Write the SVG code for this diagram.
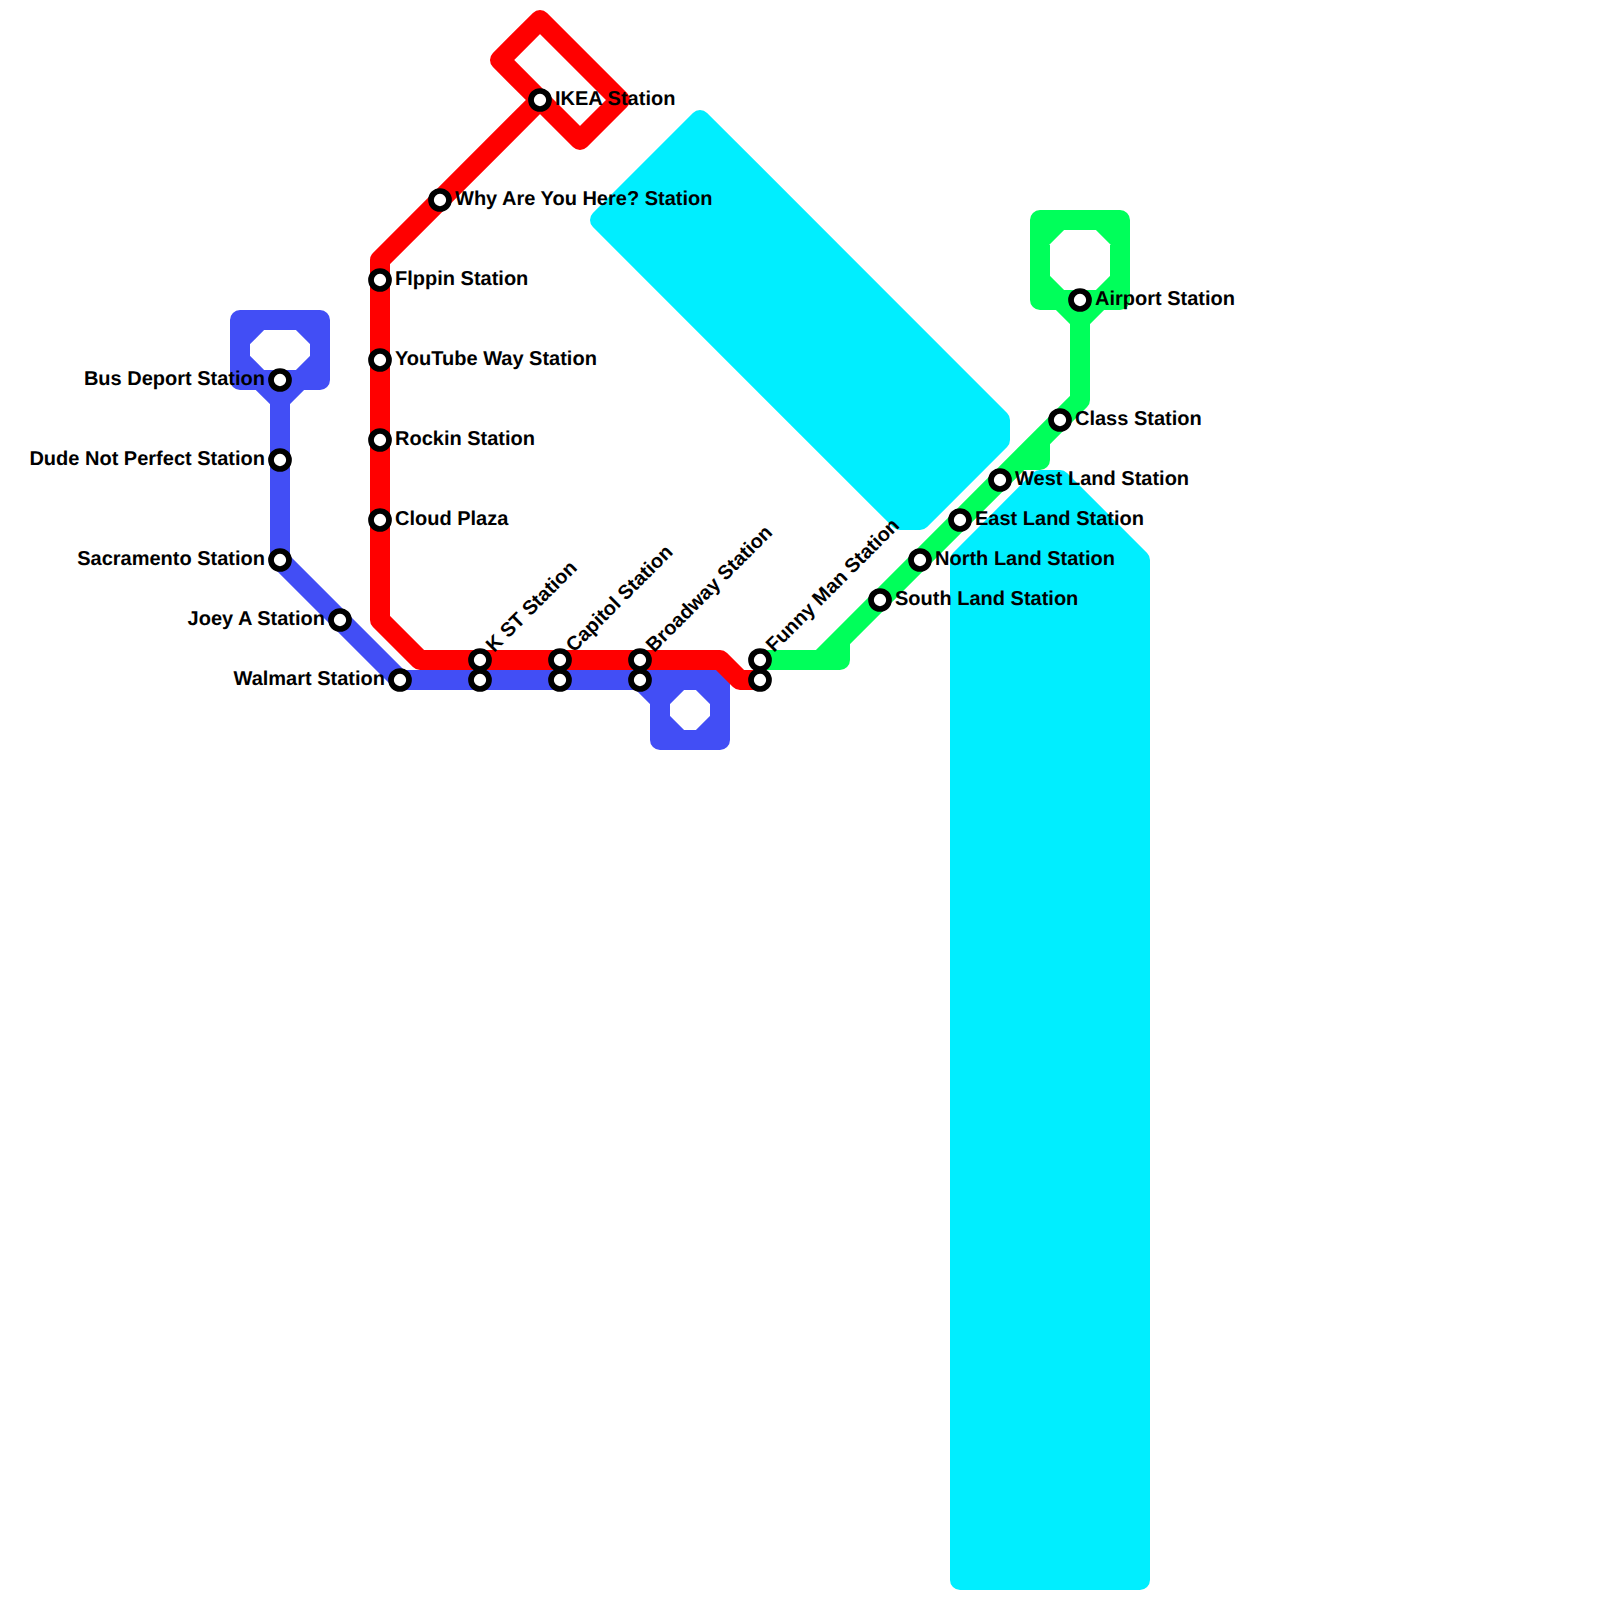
<svg xmlns="http://www.w3.org/2000/svg" width="1600" height="1600" viewBox="0 0 1600 1600">
<style>
.w{fill:#00eeff;stroke:#00eeff;stroke-width:20;stroke-linejoin:round}
.l{fill:none;stroke-width:20;stroke-linejoin:round;stroke-linecap:round}
.s circle{fill:#fff;stroke:#000;stroke-width:5.7}
.s text{font-family:"Liberation Sans",Arial,sans-serif;font-weight:700;font-size:20px;fill:#000;text-rendering:geometricPrecision}
.e{text-anchor:end}
</style>
<rect width="1600" height="1600" fill="#fff"/>
<g id="water">
<polygon class="w" points="700,120 1000,420 1000,440 920,520 900,520 600,220"/>
<polygon class="w" points="960,560 1040,480 1060,480 1140,560 1140,1580 960,1580"/>
</g>
<g id="connectors">
<path id="blue-line" class="l" stroke="#424ef5" d="M280,380V560L400,680H720V740H660V680H720M640,680L660,700M660,720L680,740M700,740L720,720M700,680L720,700M660,700L680,680M280,400L260,380M280,400L300,380M240,320H320V380H240ZM240,340L260,320M300,320L320,340M320,360L300,380M260,380L240,360M280,380V400"/>
<path id="red-line" class="l" stroke="#ff0000" d="M760,680H740L720,660H420L380,620V260L540,100L500,60L540,20L620,100L580,140L540,100"/>
<path id="green-line" class="l" stroke="#00ff5a" d="M760,660H840V640M825,655L1080,400V320L1060,300M1020,460H1040V440M1000,480L1020,460M1080,320L1100,300M1040,220H1120V300H1040ZM1040,240L1060,220M1100,220L1120,240M1120,280L1100,300M1060,300L1040,280M840,640L820,660"/>
</g>
<g id="bus-deport" class="s"><circle cx="280" cy="380" r="9"/><text class="e" x="265" y="385">Bus Deport Station</text></g>
<g id="dude-not-perfect" class="s"><circle cx="280" cy="460" r="9"/><text class="e" x="265" y="465">Dude Not Perfect Station</text></g>
<g id="sacramento" class="s"><circle cx="280" cy="560" r="9"/><text class="e" x="265" y="565">Sacramento Station</text></g>
<g id="joey-a" class="s"><circle cx="340" cy="620" r="9"/><text class="e" x="325" y="625">Joey A Station</text></g>
<g id="walmart" class="s"><circle cx="400" cy="680" r="9"/><text class="e" x="385" y="685">Walmart Station</text></g>
<g id="blue-k-st" class="s"><circle cx="480" cy="680" r="9"/></g>
<g id="blue-capitol" class="s"><circle cx="560" cy="680" r="9"/></g>
<g id="blue-broadway" class="s"><circle cx="640" cy="680" r="9"/></g>
<g id="ikea" class="s"><circle cx="540" cy="100" r="9"/><text x="555" y="105">IKEA Station</text></g>
<g id="why-are-you-here" class="s"><circle cx="440" cy="200" r="9"/><text x="455" y="205">Why Are You Here? Station</text></g>
<g id="flppin" class="s"><circle cx="380" cy="280" r="9"/><text x="395" y="285">Flppin Station</text></g>
<g id="youtube-way" class="s"><circle cx="380" cy="360" r="9"/><text x="395" y="365">YouTube Way Station</text></g>
<g id="rockin" class="s"><circle cx="380" cy="440" r="9"/><text x="395" y="445">Rockin Station</text></g>
<g id="cloud-plaza" class="s"><circle cx="380" cy="520" r="9"/><text x="395" y="525">Cloud Plaza</text></g>
<g id="k-st" class="s"><circle cx="480" cy="660" r="9"/><text transform="translate(494,653) rotate(-45)">K ST Station</text></g>
<g id="capitol" class="s"><circle cx="560" cy="660" r="9"/><text transform="translate(574,653) rotate(-45)">Capitol Station</text></g>
<g id="broadway" class="s"><circle cx="640" cy="660" r="9"/><text transform="translate(654,653) rotate(-45)">Broadway Station</text></g>
<g id="funny-man" class="s"><circle cx="760" cy="660" r="9"/><text transform="translate(774,653) rotate(-45)">Funny Man Station</text></g>
<g id="red-end" class="s"><circle cx="760" cy="680" r="9"/></g>
<g id="south-land" class="s"><circle cx="880" cy="600" r="9"/><text x="895" y="605">South Land Station</text></g>
<g id="north-land" class="s"><circle cx="920" cy="560" r="9"/><text x="935" y="565">North Land Station</text></g>
<g id="east-land" class="s"><circle cx="960" cy="520" r="9"/><text x="975" y="525">East Land Station</text></g>
<g id="west-land" class="s"><circle cx="1000" cy="480" r="9"/><text x="1015" y="485">West Land Station</text></g>
<g id="class" class="s"><circle cx="1060" cy="420" r="9"/><text x="1075" y="425">Class Station</text></g>
<g id="airport" class="s"><circle cx="1080" cy="300" r="9"/><text x="1095" y="305">Airport Station</text></g>
</svg>
